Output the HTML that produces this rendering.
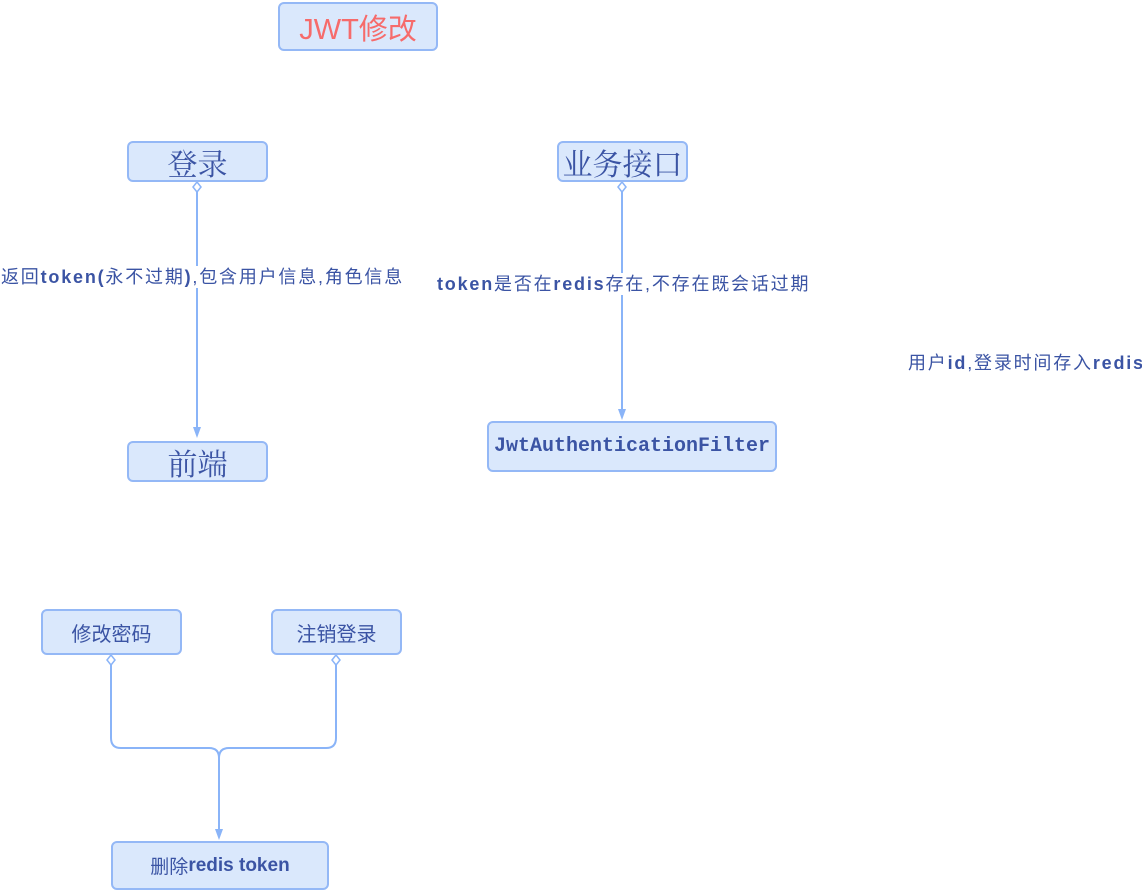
<!DOCTYPE html>
<html><head><meta charset="utf-8"><style>
body{margin:0;width:1142px;height:890px;background:#fff;position:relative;overflow:hidden;font-family:"Liberation Sans","Noto Sans CJK SC",sans-serif;color:#3b54a4}
.b{position:absolute;box-sizing:border-box;background:#dae8fc;border:2px solid #94b8f6;border-radius:6px;display:flex;align-items:center;justify-content:center;white-space:nowrap}
.s{font-family:"Noto Serif CJK SC",serif;font-size:30px}
.t{position:absolute;font-size:18px;white-space:nowrap;background:#fff;line-height:22px;letter-spacing:1.8px}
</style></head><body>
<svg width="1142" height="890" style="position:absolute;left:0;top:0">
<g stroke="#8ab4f8" stroke-width="2" fill="none">
<path d="M197 192V428"/>
<path d="M622 192V410"/>
<path d="M111 665V738Q111 748 121 748H209Q219 748 219 758V830"/>
<path d="M336 665V738Q336 748 326 748H229Q219 748 219 758"/>
</g>
<g fill="#fff" stroke="#8ab4f8" stroke-width="1.5">
<path d="M197 182l4 5-4 5-4-5z"/><path d="M622 182l4 5-4 5-4-5z"/>
<path d="M111 655l4 5-4 5-4-5z"/><path d="M336 655l4 5-4 5-4-5z"/>
</g>
<g fill="#8ab4f8">
<path d="M193 427h8l-4 11z"/><path d="M618 409h8l-4 11z"/><path d="M215 829h8l-4 11z"/>
</g>
</svg>
<div class="b" style="left:278px;top:2px;width:160px;height:49px;color:#f66b6b;font-size:29px">JWT修改</div>
<div class="b s" style="left:127px;top:141px;width:141px;height:41px">登录</div>
<div class="b s" style="left:557px;top:141px;width:131px;height:41px">业务接口</div>
<div class="b s" style="left:127px;top:441px;width:141px;height:41px">前端</div>
<div class="b" style="left:487px;top:421px;width:290px;height:51px;font-family:'Liberation Mono',monospace;font-weight:bold;font-size:20px">JwtAuthenticationFilter</div>
<div class="b" style="left:41px;top:609px;width:141px;height:46px;font-size:20px">修改密码</div>
<div class="b" style="left:271px;top:609px;width:131px;height:46px;font-size:20px">注销登录</div>
<div class="b" style="left:111px;top:841px;width:218px;height:49px;font-size:19px">删除<b>redis token</b></div>
<div class="t" style="left:1px;top:266px">返回<b>token(</b>永不过期<b>)</b>,包含用户信息,角色信息</div>
<div class="t" style="left:437px;top:273px"><b>token</b>是否在<b>redis</b>存在,不存在既会话过期</div>
<div class="t" style="left:908px;top:352px">用户<b>id</b>,登录时间存入<b>redis</b></div>
</body></html>
